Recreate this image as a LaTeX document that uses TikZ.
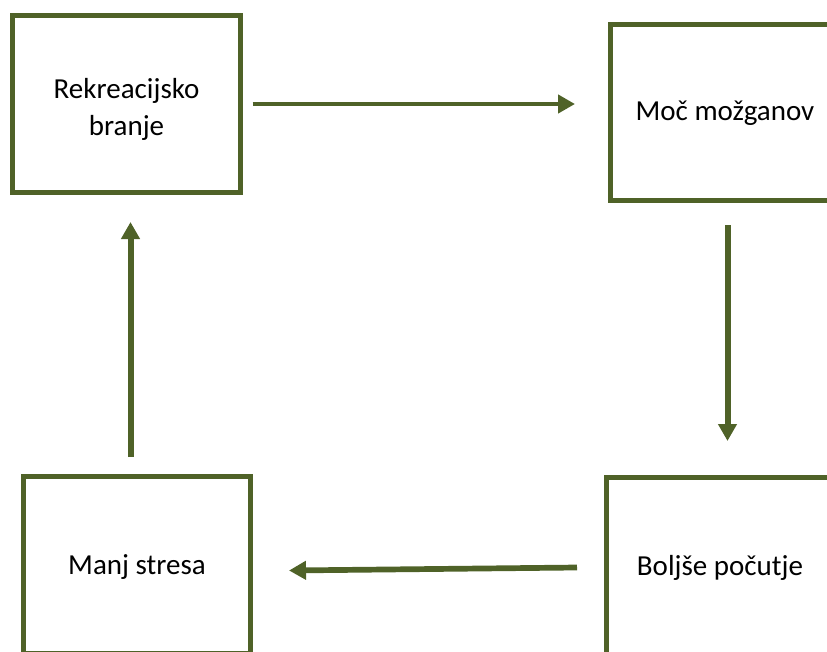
\documentclass[tikz,border=0pt]{standalone}
\usepackage{fontspec}
\setmainfont{Carlito}
\usetikzlibrary{arrows.meta}
\definecolor{olive}{RGB}{79,98,40}
\begin{document}
\begin{tikzpicture}[x=1pt,y=-1pt,
  box/.style={draw=olive,line width=5pt,rectangle,inner sep=0pt,align=center,
    font=\fontsize{29}{36.5}\selectfont,text=black,text height=24pt,text depth=5pt},
  conn/.style={draw=olive,-{Triangle[length=17pt,width=18pt]}}]
\useasboundingbox (0,0) rectangle (827,651);
\clip (0,0) rectangle (827,651);
\node[box,minimum width=228pt,minimum height=177pt,text height=67pt] (A) at (126.5,104) {Rekreacijsko\\branje};
\node[box,minimum width=229pt,minimum height=176pt,text height=21.5pt] (B) at (725,112.5) {Moč možganov};
\node[box,minimum width=227pt,minimum height=177pt] (C) at (720,565.5) {Boljše počutje};
\node[box,minimum width=227pt,minimum height=177pt] (D) at (137,565) {Manj stresa};
\coordinate (a1s) at (252.5,104);
\coordinate (a1e) at (575,104);
\coordinate (a2s) at (727.5,225);
\coordinate (a2e) at (727.5,441);
\coordinate (a3s) at (577,567.5);
\coordinate (a3e) at (289,570.5);
\coordinate (a4s) at (130.5,457);
\coordinate (a4e) at (130.5,222);
\draw[conn,line width=4.3pt] (a1s) -- (a1e);
\draw[conn,line width=6pt] (a2s) -- (a2e);
\draw[conn,line width=5.7pt] (a3s) -- (a3e);
\draw[conn,line width=6pt] (a4s) -- (a4e);
\end{tikzpicture}
\end{document}
